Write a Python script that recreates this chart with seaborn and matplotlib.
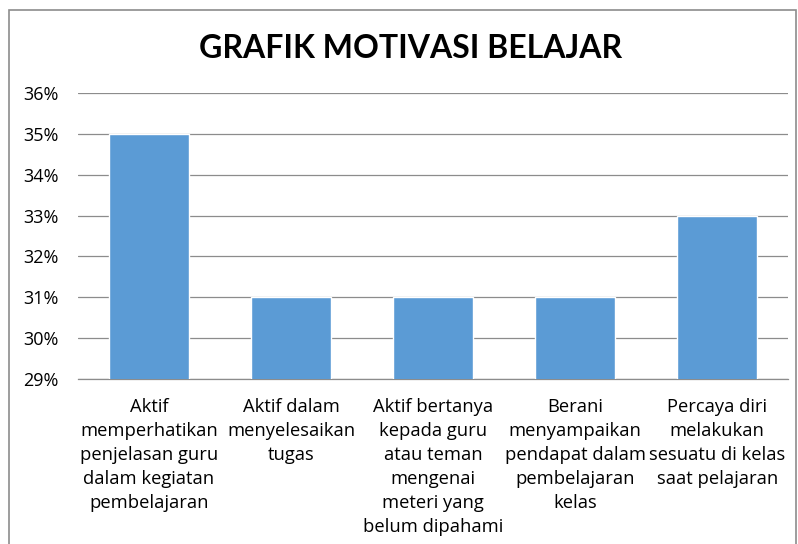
import matplotlib
matplotlib.use("Agg")
import matplotlib.pyplot as plt
import matplotlib.patches as mpatches
from matplotlib.ticker import FuncFormatter
import seaborn as sns
import pandas as pd

# data
categories = [
    "Aktif\nmemperhatikan\npenjelasan guru\ndalam kegiatan\npembelajaran",
    "Aktif dalam\nmenyelesaikan\ntugas",
    "Aktif bertanya\nkepada guru\natau teman\nmengenai\nmeteri yang\nbelum dipahami",
    "Berani\nmenyampaikan\npendapat dalam\npembelajaran\nkelas",
    "Percaya diri\nmelakukan\nsesuatu di kelas\nsaat pelajaran",
]
values = [35, 31, 31, 31, 33]
y_ticks = [29, 30, 31, 32, 33, 34, 35, 36]

df = pd.DataFrame({"kategori": categories, "nilai": values})

sns.set_style("white")
plt.rcParams['font.family'] = ['Open Sans', 'DejaVu Sans']
plt.rcParams['text.color'] = 'black'

fig = plt.figure(figsize=(7.98, 5.44), dpi=100)
ax = fig.add_axes([0.0977, 0.3033, 0.89, 0.5257])

sns.barplot(data=df, x="kategori", y="nilai", color="#5B9BD5", width=0.56,
            saturation=1, ax=ax, zorder=3)

ax.set_ylim(29, 36)
ax.set_yticks(y_ticks)
ax.yaxis.set_major_formatter(FuncFormatter(lambda v, p: f"{v:.0f}%"))
ax.grid(axis="y", color="#8c8c8c", linewidth=0.9, zorder=0)
ax.set_axisbelow(True)
for s in ["top", "right", "left"]:
    ax.spines[s].set_visible(False)
ax.spines["bottom"].set_color("#8c8c8c")
ax.spines["bottom"].set_linewidth(0.9)
ax.tick_params(axis="both", length=0, labelsize=13, colors="black")
ax.tick_params(axis="y", pad=14)
ax.tick_params(axis="x", pad=14)
for lab in ax.get_xticklabels():
    lab.set_linespacing(1.42)
    lab.set_fontsize(13.2)
ax.set_xlabel("")
ax.set_ylabel("")

fig.text(0.514, 0.91, "GRAFIK MOTIVASI BELAJAR", ha="center", va="center",
         fontsize=23, fontweight="bold", color="black", family=["Lato", "DejaVu Sans"])

# outer frame of the chart
frame = mpatches.Rectangle((9 / 798, -0.05), (796 - 9) / 798, 1.05 - 10 / 544,
                           transform=fig.transFigure, fill=False,
                           edgecolor="#8c8c8c", linewidth=1.2)
fig.patches.append(frame)

fig.savefig("out.png", dpi=100)
